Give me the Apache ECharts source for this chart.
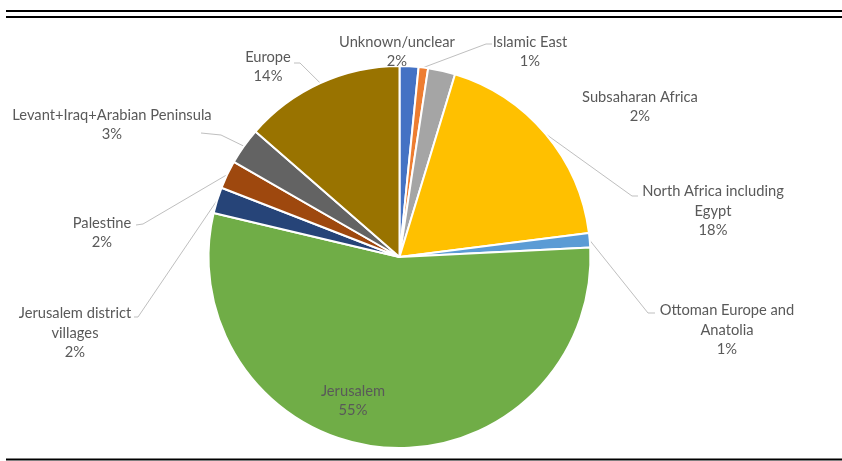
<!DOCTYPE html>
<html>
<head>
<meta charset="utf-8">
<script src="https://cdn.jsdelivr.net/npm/echarts@6/dist/echarts.min.js"></script>
<style>html,body{margin:0;padding:0;background:#fff;}#c{width:842px;height:461px;}</style>
</head>
<body>
<div id="c"></div>
<script>
var categories = ["Unknown/unclear", "Islamic East", "Subsaharan Africa", "North Africa including\nEgypt", "Ottoman Europe and\nAnatolia", "Jerusalem", "Jerusalem district\nvillages", "Palestine", "Levant+Iraq+Arabian Peninsula", "Europe"];
var values = [1.6, 0.8, 2.3, 18.3, 1.2, 54.5, 2.2, 2.4, 3.1, 13.6];
var colors = ["#4472C4", "#ED7D31", "#A5A5A5", "#FFC000", "#5B9BD5", "#70AD47", "#264478", "#9E480E", "#636363", "#997300"];
var showLine = [false, true, false, true, true, false, true, true, true, true];

// label layout: block centre and leader-line bend/end points
var labelPos = [
  {x: 397, y: 52},
  {x: 530, y: 52, pts: [[486, 44], [492, 44]]},
  {x: 640, y: 107},
  {x: 713, y: 211, pts: [[632, 196], [638, 196]]},
  {x: 727, y: 330, pts: [[648, 313], [655, 313]]},
  {x: 353, y: 401},
  {x: 75, y: 333, pts: [[138, 317], [134, 317]]},
  {x: 102, y: 233, pts: [[143, 224], [136, 225]]},
  {x: 112, y: 125, pts: [[221, 135], [201, 133]]},
  {x: 268, y: 67, pts: [[300, 63], [294, 63]]}
];

var data = categories.map(function (n, i) {
  return {
    name: n,
    value: values[i],
    itemStyle: {color: colors[i]},
    labelLine: {show: showLine[i]}
  };
});

var chart = echarts.init(document.getElementById('c'), null, {renderer: 'canvas'});
chart.setOption({
  animation: false,
  backgroundColor: '#fff',
  graphic: [
    {type: 'line', shape: {x1: 6, y1: 11, x2: 842, y2: 11}, style: {stroke: '#000', lineWidth: 2}},
    {type: 'line', shape: {x1: 6, y1: 17, x2: 842, y2: 17}, style: {stroke: '#000', lineWidth: 2}},
    {type: 'line', shape: {x1: 6, y1: 459.5, x2: 842, y2: 459.5}, style: {stroke: '#000', lineWidth: 2}}
  ],
  series: [{
    type: 'pie',
    center: [399.5, 257],
    radius: 191,
    startAngle: 90,
    clockwise: true,
    avoidLabelOverlap: false,
    itemStyle: {borderColor: '#fff', borderWidth: 2},
    label: {
      show: true,
      position: 'outside',
      fontFamily: 'Lato',
      fontSize: 14.7,
      color: '#595959',
      lineHeight: 19.5,
      align: 'center',
      formatter: function (p) { return p.name + '\n' + Math.round(p.value) + '%'; }
    },
    labelLine: {show: true, length: 10, length2: 10, lineStyle: {color: '#BFBFBF', width: 1}},
    labelLayout: function (p) {
      var c = labelPos[p.dataIndex];
      var r = {x: c.x, y: c.y, align: 'center', verticalAlign: 'middle'};
      if (c.pts && p.labelLinePoints) {
        r.labelLinePoints = [p.labelLinePoints[0], c.pts[0], c.pts[1]];
      }
      return r;
    },
    data: data
  }]
});
</script>
</body>
</html>
